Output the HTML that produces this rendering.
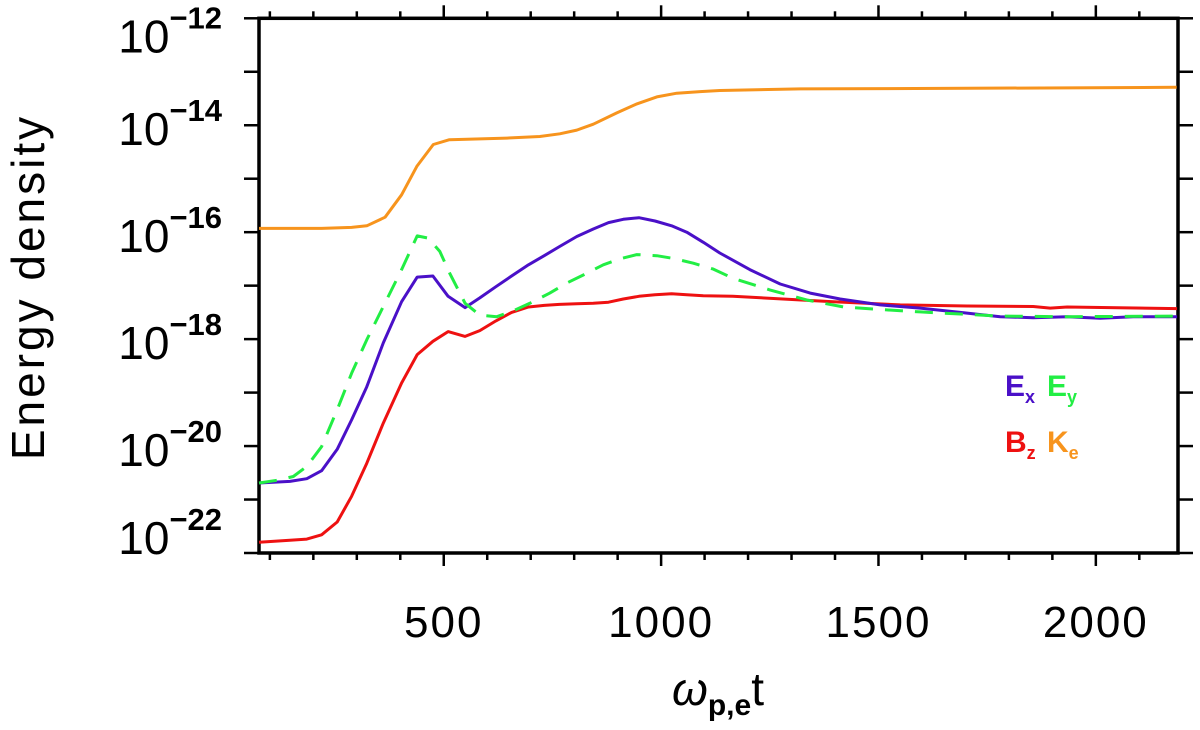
<!DOCTYPE html>
<html><head><meta charset="utf-8"><style>
html,body{margin:0;padding:0;background:#fff;width:1200px;height:730px;overflow:hidden}
svg{display:block}
text{font-family:"Liberation Sans","DejaVu Sans",sans-serif}
</style></head><body>
<svg id="chart" width="1200" height="730" viewBox="0 0 1200 730">
<g id="axes"></g>
<g id="series"></g>
<text x="718" y="705" font-size="46" text-anchor="middle"><tspan font-style="italic">ω</tspan><tspan font-size="30" dy="10" font-weight="bold">p,e</tspan><tspan dy="-10">t</tspan></text>
<text transform="translate(44,287) rotate(-90)" font-size="46" letter-spacing="3" text-anchor="middle">Energy density</text>
<g font-weight="bold">
<text x="1005" y="396" font-size="30" fill="#4a10c8">E<tspan font-size="18" dy="7">x</tspan></text>
<text x="1047" y="396" font-size="30" fill="#22ee44">E<tspan font-size="18" dy="7">y</tspan></text>
<text x="1005" y="452" font-size="30" fill="#ee1111">B<tspan font-size="18" dy="7">z</tspan></text>
<text x="1047" y="452" font-size="30" fill="#f7941d">K<tspan font-size="18" dy="7">e</tspan></text>
</g>
</svg>
<script>
const xTicks=[500,1000,1500,2000];
const yTickExps=[-12,-14,-16,-18,-20,-22];
const exT=[75,146,185,219,255,288,323,361,403,439,475,510,549,583,620,656,695,731,766,806,844,879,913,949,986,1024,1059,1097,1135,1204,1274,1343,1412,1504,1596,1688,1780,1856,1934,2010,2086,2187];
const exV=[-20.69,-20.66,-20.61,-20.46,-20.06,-19.51,-18.89,-18.07,-17.30,-16.84,-16.82,-17.20,-17.41,-17.23,-17.02,-16.82,-16.61,-16.44,-16.27,-16.08,-15.94,-15.82,-15.76,-15.73,-15.79,-15.88,-16.0,-16.19,-16.39,-16.70,-16.97,-17.14,-17.25,-17.36,-17.42,-17.50,-17.58,-17.60,-17.58,-17.61,-17.58,-17.58];
const eyT=[75,116,154,185,219,255,288,323,361,403,439,464,491,514,549,583,622,660,698,744,783,821,867,905,944,990,1028,1074,1120,1165,1250,1336,1420,1511,1596,1688,1780,1934,2187];
const eyV=[-20.69,-20.64,-20.57,-20.38,-20.01,-19.32,-18.64,-18.01,-17.39,-16.70,-16.07,-16.11,-16.36,-16.77,-17.33,-17.55,-17.58,-17.47,-17.33,-17.14,-16.95,-16.80,-16.61,-16.50,-16.42,-16.44,-16.49,-16.58,-16.69,-16.86,-17.08,-17.27,-17.40,-17.45,-17.49,-17.53,-17.57,-17.58,-17.57];
const bzT=[75,146,185,219,255,288,323,361,403,439,475,510,549,583,620,656,695,731,766,806,844,879,913,949,986,1024,1059,1097,1165,1280,1396,1550,1704,1856,1895,1934,2187];
const bzV=[-21.80,-21.76,-21.74,-21.66,-21.42,-20.94,-20.32,-19.57,-18.82,-18.29,-18.04,-17.86,-17.95,-17.84,-17.66,-17.50,-17.40,-17.37,-17.35,-17.34,-17.33,-17.31,-17.25,-17.20,-17.17,-17.15,-17.17,-17.19,-17.20,-17.25,-17.30,-17.36,-17.38,-17.39,-17.42,-17.40,-17.43];
const keT=[75,146,219,288,323,365,403,438,476,513,645,721,767,806,844,898,944,990,1036,1090,1135,1320,1703,2186];
const keV=[-15.93,-15.93,-15.93,-15.91,-15.88,-15.72,-15.30,-14.77,-14.36,-14.27,-14.24,-14.21,-14.16,-14.09,-13.98,-13.77,-13.60,-13.47,-13.40,-13.37,-13.35,-13.32,-13.31,-13.29];

const L=259,R=1178,T=18.3,B=553;
const X0=75,X1=2189,Y0=-22,Y1=-12;
const sx=t=>L+(t-X0)/(X1-X0)*(R-L);
const sy=v=>B-(v-Y0)/(Y1-Y0)*(B-T);
const NS='http://www.w3.org/2000/svg';
function mk(tag,attrs,parent){const e=document.createElementNS(NS,tag);for(const k in attrs)e.setAttribute(k,attrs[k]);parent.appendChild(e);return e;}
const ax=document.getElementById('axes');
const frame=mk('rect',{x:L,y:T,width:R-L,height:B-T,fill:'none',stroke:'#000','stroke-width':3.5},ax);


for(let t=100;t<=2150;t+=100){
  const maj=t%500===0;const x=sx(t);
  const tk=mk('line',{x1:x,x2:x,y1:B,y2:B+(maj?13:7),stroke:'#000','stroke-width':2.5},ax);
  
  
  const tt=mk('line',{x1:x,x2:x,y1:T,y2:T-(maj?13:7),stroke:'#000','stroke-width':2.5},ax);
  
  
}
xTicks.forEach(t=>{
  const tx=mk('text',{x:sx(t),y:637,'font-size':44,'letter-spacing':2,'text-anchor':'middle'},ax);
  tx.textContent=t;
  
  
});
for(let e=-22;e<=-12;e++){
  const y=sy(e);
  const a=mk('line',{x1:L-15,x2:L,y1:y,y2:y,stroke:'#000','stroke-width':2.5},ax);
  
  
  const b=mk('line',{x1:R,x2:R+15,y1:y,y2:y,stroke:'#000','stroke-width':2.5},ax);
  
  
}
yTickExps.forEach(e=>{
  const y=sy(e);
  let base=y+20;
  if(base>B+1)base=B+1;
  if(base<T+34)base=T+34;
  const tx=mk('text',{x:222,y:base,'font-size':46,'text-anchor':'end'},ax);
  
  
  const a=document.createElementNS(NS,'tspan');a.textContent='10';tx.appendChild(a);
  const s=document.createElementNS(NS,'tspan');s.setAttribute('dy','-24');s.setAttribute('font-size','31');s.setAttribute('font-weight','bold');s.textContent='\u2212'+(-e);tx.appendChild(s);
});
const sg=document.getElementById('series');
function line(ts,vs,color,name,dash){
  const d=ts.map((t,i)=>(i?'L':'M')+sx(t).toFixed(1)+','+sy(vs[i]).toFixed(1)).join('');
  const p=mk('path',{d:d,fill:'none',stroke:color,'stroke-width':3,'stroke-linejoin':'round'},sg);
  if(dash)p.setAttribute('stroke-dasharray',dash);
  
  
}
line(keT,keV,'#f7941d','line-ke');
line(bzT,bzV,'#ee1111','line-bz');
line(exT,exV,'#4a10c8','line-ex');
line(eyT,eyV,'#22ee44','line-ey','18,12');
</script>
</body></html>
